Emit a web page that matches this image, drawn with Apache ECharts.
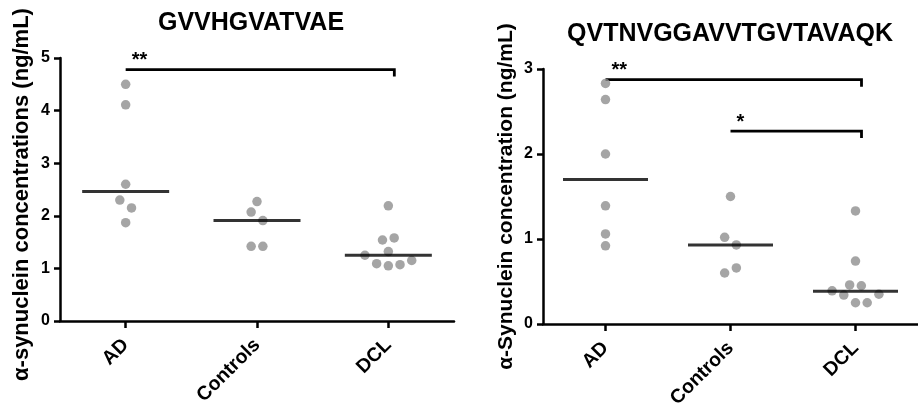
<!DOCTYPE html>
<html>
<head>
<meta charset="utf-8">
<script src="https://cdn.jsdelivr.net/npm/echarts@6/dist/echarts.min.js"></script>
<style>
html,body{margin:0;padding:0;background:#fff;}
#chart{width:918px;height:414px;}
</style>
</head>
<body>
<div id="chart"></div>
<script>
// ---------- data ----------
const categories = ['AD', 'Controls', 'DCL'];

// Panel 1: GVVHGVATVAE
const titleL = 'GVVHGVATVAE';
const yNameL = 'α-synuclein concentrations (ng/mL)';
const adL = [4.50, 4.11, 2.60, 2.30, 2.15, 1.87];
const adJitL = [0, 0, 0, -0.5, 0.5, 0];
const ctlL = [2.27, 2.07, 1.91, 1.42, 1.42];
const ctlJitL = [0, -0.5, 0.5, -0.5, 0.5];
const dclL = [2.19, 1.54, 1.58, 1.32, 1.25, 1.09, 1.05, 1.07, 1.15];
const dclJitL = [0, -0.5, 0.5, 0, -2, -1, 0, 1, 2];
const meanL = [2.46, 1.91, 1.25];
const sigFromL = ['AD'];
const sigToL = ['DCL'];
const sigLevelL = [4.78];
const sigTextL = ['**'];
const yMaxL = 5;

// Panel 2: QVTNVGGAVVTGVTAVAQK
const titleR = 'QVTNVGGAVVTGVTAVAQK';
const yNameR = 'α-Synuclein concentration (ng/mL)';
const adR = [2.83, 2.64, 2.00, 1.39, 1.06, 0.92];
const adJitR = [0, 0, 0, 0, 0, 0];
const ctlR = [1.50, 1.02, 0.93, 0.60, 0.66];
const ctlJitR = [0, -0.5, 0.5, -0.5, 0.5];
const dclR = [1.33, 0.74, 0.46, 0.45, 0.39, 0.34, 0.35, 0.25, 0.25];
const dclJitR = [0, 0, -0.5, 0.5, -2, -1, 2, 0, 1];
const meanR = [1.70, 0.93, 0.385];
const sigFromR = ['AD', 'Controls'];
const sigToR = ['DCL', 'DCL'];
const sigLevelR = [2.875, 2.27];
const sigTextR = ['**', '*'];
const yMaxR = 3;

// ---------- styling ----------
const FONT = '"Liberation Sans", Arial, Helvetica, sans-serif';
const DOT = '#8e8e8e';
const SLOT = 11.7; // px per jitter slot

function pts(cat, vals, jit) {
  return vals.map((v, i) => ({ value: [cat, v], symbolOffset: [jit[i] * SLOT, 0] }));
}

function axisPair(gi, yMax) {
  const x = {
    type: 'category', gridIndex: gi, data: categories, boundaryGap: true,
    axisLine: { show: true, lineStyle: { color: '#000', width: 2.5 } },
    axisTick: { show: true, alignWithLabel: true, length: 7, lineStyle: { color: '#000', width: 2.5 } },
    axisLabel: { rotate: 45, margin: 21, color: '#000', fontSize: 19.5, fontWeight: 'bold', fontFamily: FONT, interval: 0 },
    splitLine: { show: false }
  };
  const y = {
    type: 'value', gridIndex: gi, min: 0, max: yMax, interval: 1,
    axisLine: { show: true, lineStyle: { color: '#000', width: 2.5 } },
    axisTick: { show: true, length: 6, lineStyle: { color: '#000', width: 2.5 } },
    axisLabel: { margin: 10, color: '#000', fontSize: 16, fontWeight: 'bold', fontFamily: FONT },
    splitLine: { show: false },
    nameLocation: 'middle', nameRotate: 90,
    nameTextStyle: { color: '#000', fontSize: 22, fontWeight: 'bold', fontFamily: FONT }
  };
  return [x, y];
}

function bracketSeries(gi, from, to, level, text) {
  return {
    type: 'custom', xAxisIndex: gi, yAxisIndex: gi, clip: false, silent: true,
    encode: { x: [0, 1], y: 2 },
    data: from.map((f, i) => [f, to[i], level[i]]),
    renderItem: function (params, api) {
      const lv = api.value(2);
      const p1 = api.coord([api.value(0), lv]);
      const p2 = api.coord([api.value(1), lv]);
      const xr = p2[0] + 6;
      return {
        type: 'group', children: [
          { type: 'polyline', shape: { points: [[p1[0], p1[1]], [xr, p1[1]], [xr, p1[1] + 7]] },
            style: { stroke: '#000', lineWidth: 2.8, fill: null } },
          { type: 'text', x: p1[0] + 6, y: p1[1] - 9,
            style: { text: text[params.dataIndex], fontSize: 20, fontWeight: 'bold', fontFamily: FONT, fill: '#000',
                     textAlign: 'left', textVerticalAlign: 'middle' } }
        ]
      };
    }
  };
}

function dotSeries(gi, data) {
  return { type: 'scatter', xAxisIndex: gi, yAxisIndex: gi, symbol: 'circle', symbolSize: 9.5,
           itemStyle: { color: DOT }, data: data, silent: true, z: 3 };
}
function meanSeries(gi, means, w) {
  return { type: 'scatter', xAxisIndex: gi, yAxisIndex: gi, symbol: 'rect', symbolSize: [w, 3],
           itemStyle: { color: '#000' }, silent: true, z: 4,
           data: means.map((m, i) => [categories[i], m]) };
}

const [xL, yL] = axisPair(0, yMaxL);
yL.name = yNameL; yL.nameGap = 27;
yL.nameTextStyle = Object.assign({}, yL.nameTextStyle, { padding: [0, 10, 0, 0] });
const [xR, yR] = axisPair(1, yMaxR);
yR.name = yNameR; yR.nameGap = 26; yR.nameTextStyle = Object.assign({}, yR.nameTextStyle, { fontSize: 21 });

const option = {
  backgroundColor: '#fff',
  animation: false,
  title: [
    { text: titleL, left: 246, top: 6, textAlign: 'center',
      textStyle: { fontSize: 25, fontWeight: 'bold', color: '#000', fontFamily: FONT } },
    { text: titleR, left: 725, top: 17, textAlign: 'center',
      textStyle: { fontSize: 25, fontWeight: 'bold', color: '#000', fontFamily: FONT } }
  ],
  grid: [
    { left: 60, top: 58, width: 394, bottom: 93, containLabel: false },
    { left: 543, top: 69, width: 383, bottom: 90, containLabel: false }
  ],
  xAxis: [xL, xR],
  yAxis: [yL, yR],
  series: [
    dotSeries(0, [].concat(pts('AD', adL, adJitL), pts('Controls', ctlL, ctlJitL), pts('DCL', dclL, dclJitL))),
    meanSeries(0, meanL, 87),
    bracketSeries(0, sigFromL, sigToL, sigLevelL, sigTextL),
    dotSeries(1, [].concat(pts('AD', adR, adJitR), pts('Controls', ctlR, ctlJitR), pts('DCL', dclR, dclJitR))),
    meanSeries(1, meanR, 85),
    bracketSeries(1, sigFromR, sigToR, sigLevelR, sigTextR)
  ]
};

const chart = echarts.init(document.getElementById('chart'), null, { renderer: 'canvas' });
chart.setOption(option);
</script>
</body>
</html>
